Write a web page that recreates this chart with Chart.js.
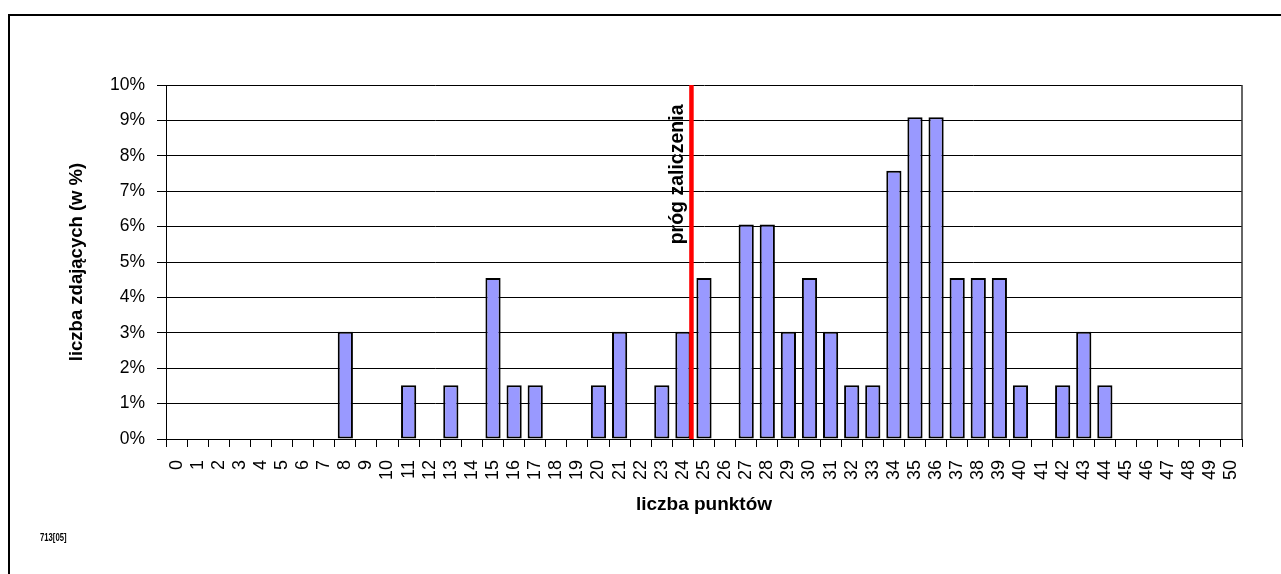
<!DOCTYPE html>
<html>
<head>
<meta charset="utf-8">
<style>
  html, body { margin: 0; padding: 0; background: #fff; overflow: hidden; }
  #wrap { position: relative; width: 1281px; height: 574px; }
  #frame { position: absolute; left: 8px; top: 14px; width: 1400px; height: 700px;
           border-left: 2px solid #000; border-top: 2px solid #000; pointer-events: none; }
  #code { position: absolute; left: 40px; top: 531px; font: bold 11px "Liberation Sans", Arial, sans-serif;
          transform: scaleX(0.7); transform-origin: left top; color: #000; }
</style>
</head>
<body>
<div id="wrap">
  <canvas id="myChart" width="1281" height="574"></canvas>
  <div id="frame"></div>
  <div id="code">713[05]</div>
</div>

<script src="https://cdn.jsdelivr.net/npm/chart.js"></script>
<script>
// liczba punktów (categories)
const points = ['0','1','2','3','4','5','6','7','8','9','10','11','12','13','14','15','16','17','18','19','20',
  '21','22','23','24','25','26','27','28','29','30','31','32','33','34','35','36','37','38','39','40',
  '41','42','43','44','45','46','47','48','49','50'];

// percent of students per score
const share = [0, 0, 0, 0, 0, 0, 0, 0, 3.03, 0, 0, 1.52, 0, 1.52, 0, 4.55, 1.52, 1.52, 0, 0, 1.52,
  3.03, 0, 1.52, 3.03, 4.55, 0, 6.06, 6.06, 3.03, 4.55, 3.03, 1.52, 1.52, 7.58, 9.09, 9.09, 4.55, 4.55, 4.55, 1.52,
  0, 1.52, 3.03, 1.52, 0, 0, 0, 0, 0, 0];

const yTicks = [0, 1, 2, 3, 4, 5, 6, 7, 8, 9, 10];

// pass mark sits between these two scores
const passAfter = '24';
const passLabel = 'próg zaliczenia';
const passLabelFrom = 5.5; // % height where the label starts

const FONT = '"Liberation Sans", Arial, sans-serif';

const passLine = {
  id: 'passLine',
  afterDatasetsDraw(chart) {
    const { ctx, chartArea, scales: { x, y } } = chart;
    const i = points.indexOf(passAfter);
    const px = (x.getPixelForValue(i) + x.getPixelForValue(i + 1)) / 2 - 2;
    ctx.save();
    ctx.strokeStyle = '#ff0000';
    ctx.lineWidth = 4.5;
    ctx.beginPath();
    ctx.moveTo(px, chartArea.top);
    ctx.lineTo(px, chartArea.bottom);
    ctx.stroke();

    ctx.translate(px - 8.5, y.getPixelForValue(passLabelFrom));
    ctx.rotate(-Math.PI / 2);
    ctx.font = 'bold 19.5px ' + FONT;
    ctx.fillStyle = '#000';
    ctx.textAlign = 'left';
    ctx.textBaseline = 'alphabetic';
    ctx.fillText(passLabel, 0, 0);
    ctx.restore();
  },
  afterDraw(chart) {
    const { ctx, chartArea } = chart;
    ctx.save();
    ctx.strokeStyle = '#333';
    ctx.lineWidth = 1.5;
    ctx.beginPath();
    ctx.moveTo(chartArea.right, chartArea.top);
    ctx.lineTo(chartArea.right, chartArea.bottom);
    ctx.stroke();
    ctx.restore();
  }
};

const config = {
  type: 'bar',
  data: {
    labels: points,
    datasets: [{
      data: share,
      backgroundColor: '#9999ff',
      borderColor: '#000',
      borderWidth: 2,
      borderSkipped: false,
      categoryPercentage: 1,
      barPercentage: 0.72
    }]
  },
  options: {
    responsive: false,
    animation: false,
    devicePixelRatio: 1,
    layout: { padding: { top: 85, right: 39, left: 0, bottom: 0 } },
    plugins: { legend: { display: false }, tooltip: { enabled: false } },
    scales: {
      x: {
        offset: true,
        afterFit: s => { s.height = 135; },
        grid: { offset: true, drawOnChartArea: false, drawTicks: true, tickLength: 8, color: '#000', lineWidth: 1 },
        border: { color: '#000', width: 1 },
        ticks: { color: '#000', font: { family: FONT, size: 18 }, minRotation: 90, maxRotation: 90, padding: 13, autoSkip: false },
        title: { display: true, text: 'liczba punktów', color: '#000', font: { family: FONT, size: 19, weight: 'bold' }, padding: { top: 0, bottom: 57.6 } }
      },
      y: {
        min: 0,
        max: 10,
        afterFit: s => { s.width = 166; },
        afterBuildTicks: s => { s.ticks = yTicks.map(v => ({ value: v })); },
        grid: { color: '#000', lineWidth: 1, tickLength: 9 },
        border: { color: '#000', width: 1 },
        ticks: { color: '#000', font: { family: FONT, size: 17.5 }, padding: 12, callback: v => v + '%' },
        title: { display: true, text: 'liczba zdających (w %)', color: '#000', font: { family: FONT, size: 18.5, weight: 'bold' }, padding: { top: 66, bottom: 0 } }
      }
    }
  },
  plugins: [passLine]
};

const ctx = document.getElementById('myChart');
const chart = new Chart(ctx, config);
</script>
</body>
</html>
